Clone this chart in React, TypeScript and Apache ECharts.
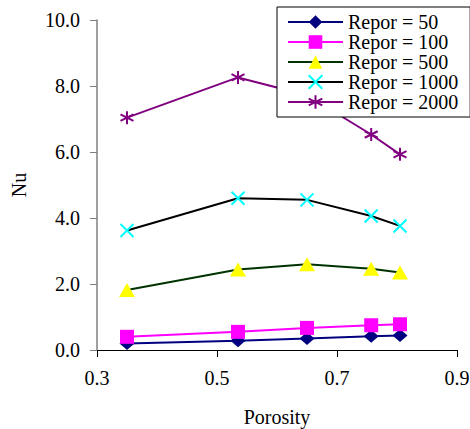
import React, { useEffect, useRef } from "react";
import * as echarts from "echarts";

const porosity = [0.35, 0.535, 0.65, 0.757, 0.805];
const seriesNames = ["Repor = 50", "Repor = 100", "Repor = 500", "Repor = 1000", "Repor = 2000"];
const nu50 = [0.2, 0.28, 0.35, 0.42, 0.44];
const nu100 = [0.4, 0.55, 0.67, 0.75, 0.78];
const nu500 = [1.82, 2.44, 2.6, 2.46, 2.35];
const nu1000 = [3.62, 4.6, 4.55, 4.06, 3.76];
const nu2000 = [7.04, 8.26, 7.72, 6.53, 5.93];
const xTicks = [0.3, 0.5, 0.7, 0.9];
const yTicks = [0, 2, 4, 6, 8, 10];

const FONT = "Times New Roman, Liberation Serif, serif";

const X_PATH = "path://M0,0L10,10M10,0L0,10";
const STAR_PATH = "path://M5,0L5,10M0.7,2.5L9.3,7.5M0.7,7.5L9.3,2.5";

export default function App() {
  const ref = useRef<HTMLDivElement>(null);
  useEffect(() => {
    if (!ref.current) return;
    const chart = echarts.init(ref.current, undefined, { renderer: "svg" });
    const pts = (ys: number[]) => porosity.map((x, i) => [x, ys[i]]);
    const mk = (
      name: string,
      ys: number[],
      lineColor: string,
      symbol: string,
      symbolSize: number | number[],
      fill: string,
      stroke?: boolean
    ) => ({
      name,
      type: "line",
      data: pts(ys),
      symbol,
      symbolSize,
      showSymbol: true,
      lineStyle: { color: lineColor, width: 2 },
      itemStyle: stroke
        ? { color: fill, borderColor: fill, borderWidth: 2 }
        : { color: fill, borderWidth: 0 },
      emphasis: { disabled: true },
    });
    chart.setOption({
      animation: false,
      textStyle: { fontFamily: FONT, color: "#000" },
      grid: { left: 97, right: 13, top: 20, bottom: 79, containLabel: false, outerBoundsMode: "none" },
      legend: {
        left: 277,
        top: 7,
        orient: "vertical",
        data: seriesNames,
        backgroundColor: "#fff",
        borderColor: "#000",
        borderWidth: 1,
        borderRadius: 0,
        padding: [5, 12, 5, 10],
        itemWidth: 55,
        itemHeight: 17,
        itemGap: 0,
        textStyle: { fontFamily: FONT, fontSize: 20, color: "#000", lineHeight: 17 },
      },
      xAxis: {
        type: "value",
        min: xTicks[0],
        max: xTicks[xTicks.length - 1],
        interval: 0.2,
        name: "Porosity",
        nameLocation: "middle",
        nameGap: 57,
        nameTextStyle: { fontFamily: FONT, fontSize: 20, color: "#000" },
        axisLine: { show: true, lineStyle: { color: "#000", width: 1 } },
        axisTick: { show: true, inside: false, length: 7, lineStyle: { color: "#000" } },
        axisLabel: {
          margin: 18,
          fontFamily: FONT,
          fontSize: 20,
          color: "#000",
          formatter: (v: number) => v.toFixed(1),
        },
        splitLine: { show: false },
      },
      yAxis: {
        type: "value",
        min: yTicks[0],
        max: yTicks[yTicks.length - 1],
        interval: 2,
        name: "Nu",
        nameLocation: "middle",
        nameGap: 68,
        nameRotate: 90,
        nameTextStyle: { fontFamily: FONT, fontSize: 20, color: "#000" },
        axisLine: { show: true, lineStyle: { color: "#808080", width: 1.5 } },
        axisTick: { show: true, inside: false, length: 7, lineStyle: { color: "#808080" } },
        axisLabel: {
          margin: 17,
          fontFamily: FONT,
          fontSize: 20,
          color: "#000",
          formatter: (v: number) => v.toFixed(1),
        },
        splitLine: { show: false },
      },
      series: [
        mk(seriesNames[0], nu50, "#000080", "diamond", [15, 13], "#000080"),
        mk(seriesNames[1], nu100, "#FF00FF", "rect", 14, "#FF00FF"),
        mk(seriesNames[2], nu500, "#003300", "triangle", [16, 14], "#FFFF00"),
        mk(seriesNames[3], nu1000, "#000000", X_PATH, 13, "#00FFFF", true),
        mk(seriesNames[4], nu2000, "#800080", STAR_PATH, 13, "#800080", true),
      ],
    });
    return () => chart.dispose();
  }, []);
  return (
    <div
      ref={ref}
      style={{ position: "fixed", left: 0, top: 0, width: 470, height: 429, background: "#fff" }}
    />
  );
}
